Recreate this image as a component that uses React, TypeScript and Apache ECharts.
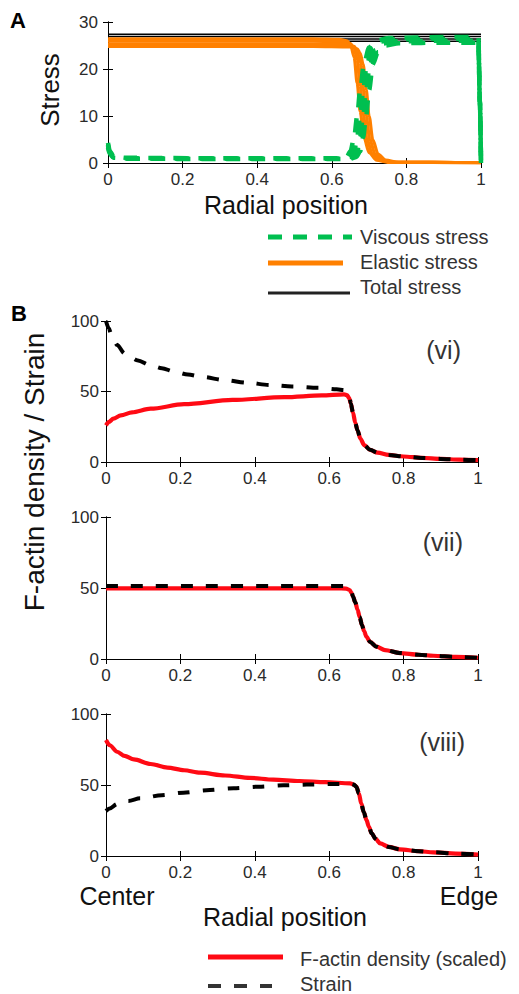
import React, { useEffect, useRef } from "react";
import * as echarts from "echarts";

// ---------- Panel A: stress profiles (radial position, stress) ----------
const aXTicks = [0, 0.2, 0.4, 0.6, 0.8, 1];
const aYTicks = [0, 10, 20, 30];

const totalLevels = [27.4, 26.9, 26.4, 25.9];

const elastic1 = [[0, 26.4], [0.55, 26.4], [0.62, 26.3], [0.64, 26.0], [0.65, 25.3], [0.66, 22.5], [0.668, 17], [0.676, 11], [0.686, 5.5], [0.7, 2.2], [0.72, 0.6], [0.75, 0.15], [1, 0.05]];
const elastic2 = [[0, 25.9], [0.55, 25.9], [0.63, 25.8], [0.65, 25.4], [0.66, 24.5], [0.668, 22], [0.676, 16.5], [0.684, 10.5], [0.694, 5.2], [0.708, 2.0], [0.728, 0.6], [0.76, 0.15], [1, 0.05]];
const elastic3 = [[0, 25.3], [0.55, 25.3], [0.64, 25.2], [0.66, 24.8], [0.668, 23.9], [0.676, 21.5], [0.684, 16], [0.692, 10.2], [0.702, 5], [0.716, 1.9], [0.736, 0.6], [0.77, 0.15], [1, 0.05]];
const elastic4 = [[0, 24.8], [0.55, 24.8], [0.648, 24.7], [0.668, 24.3], [0.676, 23.4], [0.684, 21], [0.692, 15.7], [0.7, 10], [0.71, 4.9], [0.724, 1.9], [0.744, 0.6], [0.78, 0.15], [1, 0.05]];

const viscous1 = [[0, 4.3], [0.005, 2.5], [0.015, 1.4], [0.05, 1.1], [0.3, 1.0], [0.62, 1.0], [0.64, 1.3], [0.65, 2.5], [0.66, 5.5], [0.668, 10], [0.676, 15.5], [0.686, 21], [0.7, 24.6], [0.72, 26.0], [0.75, 26.6], [0.9, 26.8], [0.993, 26.8], [0.997, 13], [1, 0]];
const viscous2 = [[0, 3.9], [0.005, 2.3], [0.015, 1.3], [0.05, 1.0], [0.3, 0.95], [0.63, 0.9], [0.65, 1.3], [0.66, 2.5], [0.668, 5.5], [0.676, 10], [0.684, 15.5], [0.694, 21], [0.708, 24.4], [0.728, 25.8], [0.76, 26.3], [0.9, 26.4], [0.993, 26.4], [0.997, 13], [1, 0]];
const viscous3 = [[0, 3.6], [0.005, 2.1], [0.015, 1.2], [0.05, 0.95], [0.3, 0.9], [0.64, 0.9], [0.658, 1.3], [0.668, 2.5], [0.676, 5.5], [0.684, 10], [0.692, 15.5], [0.702, 21], [0.716, 24.0], [0.736, 25.4], [0.77, 25.9], [0.9, 26.0], [0.993, 26.0], [0.997, 13], [1, 0]];
const viscous4 = [[0, 3.3], [0.005, 1.9], [0.015, 1.1], [0.05, 0.9], [0.3, 0.85], [0.648, 0.85], [0.666, 1.3], [0.676, 2.5], [0.684, 5.5], [0.692, 10], [0.7, 15.5], [0.71, 21], [0.724, 23.6], [0.744, 25.0], [0.78, 25.5], [0.9, 25.6], [0.993, 25.6], [0.997, 13], [1, 0]];

// ---------- Panel B: F-actin density (scaled) and strain ----------
const bYTicks = [0, 50, 100];

// (vi)
const b1Tail = [[0.658, 41.5], [0.664, 35], [0.67, 28], [0.676, 22.5], [0.684, 16.5], [0.694, 12], [0.71, 8.6], [0.73, 6.6], [0.76, 5.0], [0.8, 3.9], [0.85, 2.9], [0.9, 2.2], [0.95, 1.7], [1, 1.3]];
const b1ActinHead = [[0, 26], [0.008, 28.5], [0.02, 30.8], [0.04, 33], [0.07, 35.2], [0.12, 37.8], [0.21, 41], [0.34, 44], [0.48, 46], [0.58, 47.2], [0.64, 48], [0.648, 47.4], [0.654, 45.2]];
const b1StrainHead = [[0, 100], [0.007, 95], [0.015, 90], [0.03, 83], [0.05, 77], [0.086, 72], [0.118, 68.8], [0.15, 66.5], [0.185, 64], [0.22, 62], [0.26, 60.3], [0.32, 58], [0.38, 56.2], [0.44, 54.6], [0.5, 53.6], [0.57, 52.7], [0.62, 51.6], [0.64, 51], [0.648, 50], [0.654, 47]];

// (vii)
const b2Tail = [[0.664, 44], [0.67, 40], [0.676, 35], [0.682, 29.5], [0.688, 24], [0.694, 19.5], [0.7, 15.7], [0.71, 12], [0.727, 8.7], [0.75, 6.3], [0.79, 4.2], [0.84, 3.0], [0.88, 2.3], [0.94, 1.5], [1, 0.9]];
const b2ActinHead = [[0, 49.8], [0.62, 49.8], [0.645, 49.6], [0.655, 48.6], [0.66, 46.5]];
const b2StrainHead = [[0, 51.4], [0.64, 51.4], [0.652, 50.6], [0.66, 47.5]];

// (viii)
const b3Tail = [[0.673, 48.8], [0.68, 44], [0.686, 37], [0.693, 31], [0.7, 25.4], [0.707, 20.5], [0.714, 16], [0.725, 12], [0.737, 8.9], [0.76, 6.4], [0.79, 4.7], [0.84, 3.4], [0.88, 2.6], [0.94, 1.7], [1, 1.0]];
const b3ActinHead = [[0, 81.7], [0.01, 78], [0.03, 73.4], [0.05, 70.5], [0.075, 68], [0.12, 64.8], [0.165, 62.3], [0.21, 60.4], [0.253, 58.7], [0.32, 56.7], [0.387, 55], [0.45, 53.8], [0.52, 52.8], [0.59, 52], [0.656, 51.2], [0.666, 50.3]];
const b3StrainHead = [[0, 31.7], [0.01, 33.5], [0.03, 36.6], [0.06, 38.8], [0.092, 40.6], [0.15, 42.8], [0.208, 44.6], [0.27, 46.3], [0.343, 47.7], [0.41, 48.8], [0.477, 49.8], [0.54, 50.3], [0.61, 50.7], [0.656, 50.8], [0.666, 50.3]];

const panelTags = ["(vi)", "(vii)", "(viii)"];
const legendA = ["Viscous stress", "Elastic stress", "Total stress"];
const legendB = ["F-actin density (scaled)", "Strain"];

const FONT = "'Liberation Sans', Arial, Helvetica, sans-serif";
const GREEN = "#00BF50";
const ORANGE = "#FF8000";
const RED = "#FF0A14";

export default function App() {
  const ref = useRef<HTMLDivElement>(null);

  useEffect(() => {
    if (!ref.current) return;
    const chart = echarts.init(ref.current, undefined, { renderer: "svg" });

    const grids = [
      { left: 108, top: 22, width: 373, height: 141 },
      { left: 106, top: 321, width: 372, height: 141 },
      { left: 106, top: 517, width: 372, height: 142 },
      { left: 106, top: 714, width: 372, height: 142 },
    ];

    const tick = { show: true, inside: true, length: 5, lineStyle: { color: "#000", width: 1 } };
    const axLine = { show: true, lineStyle: { color: "#000", width: 1 } };
    const xAxes: any[] = [];
    const yAxes: any[] = [];
    grids.forEach((_, i) => {
      const yMax = i === 0 ? aYTicks[aYTicks.length - 1] : bYTicks[bYTicks.length - 1];
      const yInt = i === 0 ? aYTicks[1] - aYTicks[0] : bYTicks[1] - bYTicks[0];
      const xInt = aXTicks[1] - aXTicks[0];
      xAxes.push({
        type: "value", gridIndex: i, position: "bottom", min: 0, max: 1, interval: xInt,
        axisLine: axLine, axisTick: tick, splitLine: { show: false },
        axisLabel: { show: true, margin: 8, fontSize: 17, color: "#2a2a2a", fontFamily: FONT },
      });
      xAxes.push({
        type: "value", gridIndex: i, position: "top", min: 0, max: 1, interval: xInt,
        axisLine: axLine, axisTick: tick, splitLine: { show: false }, axisLabel: { show: false },
      });
      yAxes.push({
        type: "value", gridIndex: i, position: "left", min: 0, max: yMax, interval: yInt,
        axisLine: axLine, axisTick: tick, splitLine: { show: false },
        axisLabel: { show: true, margin: i === 0 ? 10 : 7, fontSize: 17, color: "#2a2a2a", fontFamily: FONT },
      });
      yAxes.push({
        type: "value", gridIndex: i, position: "right", min: 0, max: yMax, interval: yInt,
        axisLine: axLine, axisTick: tick, splitLine: { show: false }, axisLabel: { show: false },
      });
    });

    const line = (name: string, data: number[][], g: number, color: string, width: number, dash?: number[], z = 2) => ({
      type: "line", name, data, xAxisIndex: g * 2, yAxisIndex: g * 2,
      showSymbol: false, symbol: "none", smooth: 0.3, smoothMonotone: "x", z,
      lineStyle: { color, width, type: dash ? dash : "solid", cap: "butt" },
      emphasis: { disabled: true }, silent: true,
    });

    const series: any[] = [];
    totalLevels.forEach((v) => series.push({ ...line("Total stress", [[0, v], [1, v]], 0, "#000", 1.5), smooth: false, z: 2 }));
    [elastic1, elastic2, elastic3, elastic4].forEach((d) => series.push(line("Elastic stress", d, 0, ORANGE, 3.2, undefined, 3)));
    [viscous1, viscous2, viscous3, viscous4].forEach((d) => series.push(line("Viscous stress", d, 0, GREEN, 4.5, [14, 11], 4)));

    const bSets = [
      [[...b1ActinHead, ...b1Tail], [...b1StrainHead, ...b1Tail]],
      [[...b2ActinHead, ...b2Tail], [...b2StrainHead, ...b2Tail]],
      [[...b3ActinHead, ...b3Tail], [...b3StrainHead, ...b3Tail]],
    ];
    bSets.forEach(([actin, strain], k) => {
      series.push(line("F-actin density (scaled)", actin, k + 1, RED, 4.2, undefined, 3));
      series.push(line("Strain", strain, k + 1, "#000", 4, [12, 13], 4));
    });

    const txt = (text: string, x: number, y: number, size: number, opts: any = {}) => ({
      type: "text", x, y, rotation: opts.rotation || 0, silent: true, z: 10,
      style: {
        text, x: 0, y: 0, fontSize: size, fontFamily: FONT, fill: opts.fill || "#111",
        fontWeight: opts.bold ? "bold" : "normal", align: opts.align || "center", verticalAlign: "middle",
      },
    });
    const seg = (x1: number, y1: number, x2: number, y2: number, color: string, w: number, dash?: number[]) => ({
      type: "line", silent: true, z: 10,
      shape: { x1, y1, x2, y2 },
      style: { stroke: color, lineWidth: w, lineDash: dash || null },
    });

    const graphic: any[] = [
      txt("A", 10, 20, 22, { bold: true, align: "left", fill: "#000" }),
      txt("B", 11, 313, 22, { bold: true, align: "left", fill: "#000" }),
      txt("Stress", 50, 90, 26, { rotation: Math.PI / 2 }),
      txt("Radial position", 286, 205, 25),
      seg(268, 237, 352, 237, GREEN, 5, [14, 11]),
      txt(legendA[0], 360, 237, 20, { align: "left", fill: "#333" }),
      seg(268, 263, 343, 263, ORANGE, 5),
      txt(legendA[1], 360, 262, 20, { align: "left", fill: "#333" }),
      seg(268, 293, 350, 293, "#222", 3),
      txt(legendA[2], 360, 287, 20, { align: "left", fill: "#333" }),
      txt("F-actin density / Strain", 34, 472, 28, { rotation: Math.PI / 2 }),
      txt(panelTags[0], 461, 350, 25, { align: "right", fill: "#333" }),
      txt(panelTags[1], 463, 542, 25, { align: "right", fill: "#333" }),
      txt(panelTags[2], 465, 742, 25, { align: "right", fill: "#333" }),
      txt("Center", 117, 896, 25),
      txt("Edge", 469, 896, 25),
      txt("Radial position", 285, 917, 25),
      seg(208, 957, 283, 957, RED, 5),
      txt(legendB[0], 300, 959, 20, { align: "left", fill: "#333" }),
      seg(208, 986, 272, 986, "#333", 4, [13, 13]),
      txt(legendB[1], 300, 984, 20, { align: "left", fill: "#333" }),
    ];

    chart.setOption({
      animation: false,
      backgroundColor: "#fff",
      textStyle: { fontFamily: FONT },
      grid: grids.map((g) => ({ ...g, containLabel: false })),
      xAxis: xAxes,
      yAxis: yAxes,
      series,
      graphic,
    });

    return () => chart.dispose();
  }, []);

  return <div ref={ref} style={{ position: "absolute", left: 0, top: 0, width: 519, height: 994 }} />;
}
